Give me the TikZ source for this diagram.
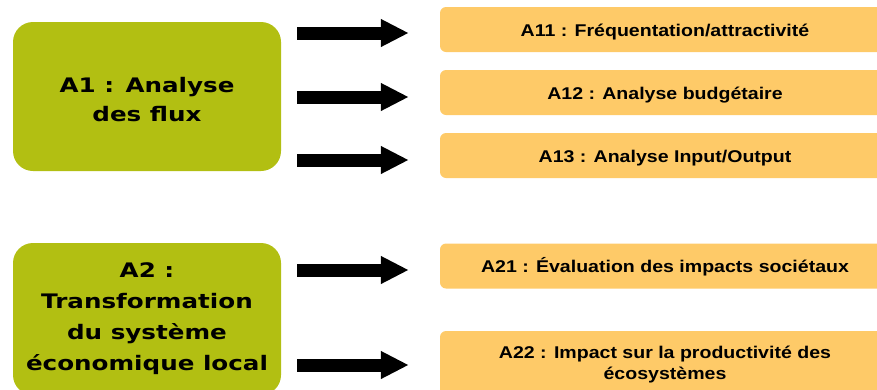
\documentclass[tikz,border=0pt]{standalone}
\usepackage{fontspec}
\newfontfamily\leftfont{DejaVu Sans}[FakeStretch=1.23]
\newfontfamily\rightfont{Liberation Sans}[FakeStretch=1.15]
\usetikzlibrary{arrows.meta,calc}
\definecolor{olivebox}{RGB}{178,191,18}
\definecolor{peachbox}{RGB}{254,202,104}
\begin{document}
\begin{tikzpicture}[x=1pt,y=-1pt,
  mainbox/.style={fill=olivebox, rounded corners=20pt, minimum width=268pt, align=center, inner sep=0pt,
    font=\leftfont\bfseries\fontsize{20}{30}\selectfont, text=black},
  subbox/.style={fill=peachbox, rounded corners=6pt, minimum width=450pt, minimum height=45pt, align=center, inner sep=0pt,
    font=\rightfont\bfseries\fontsize{17}{21}\selectfont, text=black},
  oneline/.style={text height=13.6pt, text depth=0pt},
  bigarrow/.style={draw=black, line width=13pt, -{Triangle[length=28pt,width=26pt]}}]
\useasboundingbox (0,0) rectangle (877,389);
\node[mainbox, minimum height=149pt, font=\leftfont\bfseries\fontsize{20}{29}\selectfont, text height=50pt, text depth=0pt] (a1) at (147,96.5) {A1 : Analyse\\des flux};
\node[mainbox, minimum height=152pt, font=\leftfont\bfseries\fontsize{20}{31}\selectfont] (a2) at (147,319) {A2 :\\Transformation\\du système\\économique local};
\node[subbox, oneline] (a11) at (665,29.5) {A11 : Fréquentation/attractivité};
\node[subbox, oneline] (a12) at (665,92.5) {A12 : Analyse budgétaire};
\node[subbox, oneline] (a13) at (665,155.5) {A13 : Analyse Input/Output};
\node[subbox, oneline] (a21) at (665,266) {A21 : Évaluation des impacts sociétaux};
\node[subbox, minimum height=68pt] (a22) at (665,365) {A22 : Impact sur la productivité des\\écosystèmes};
\draw[bigarrow] ($(a1.east |- a11)+(16,3.5)$) -- ($(a11.west)+(-31,3.5)$);
\draw[bigarrow] ($(a1.east |- a12)+(16,4.5)$) -- ($(a12.west)+(-31,4.5)$);
\draw[bigarrow] ($(a1.east |- a13)+(16,4.5)$) -- ($(a13.west)+(-31,4.5)$);
\draw[bigarrow] ($(a2.east |- a21)+(16,4)$) -- ($(a21.west)+(-31,4)$);
\draw[bigarrow] ($(a2.east |- a22)+(16,0)$) -- ($(a22.west)+(-31,0)$);
\end{tikzpicture}
\end{document}
